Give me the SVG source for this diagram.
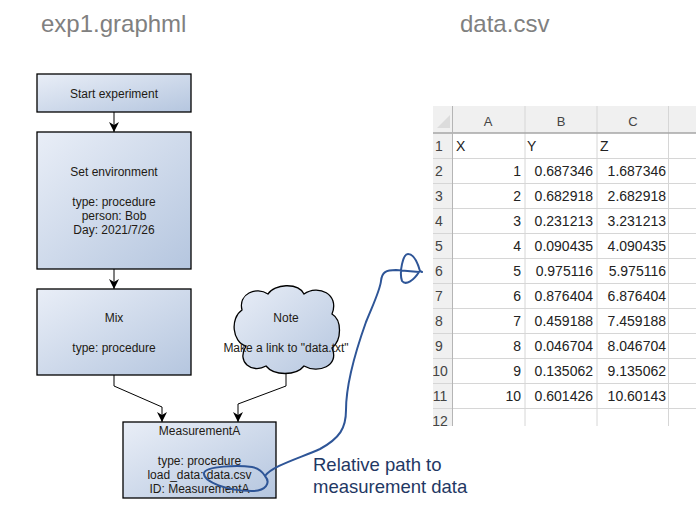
<svg xmlns="http://www.w3.org/2000/svg" width="696" height="529" viewBox="0 0 696 529">
<defs>
<linearGradient id="g" x1="0" y1="0" x2="1" y2="1">
<stop offset="0" stop-color="#E9EEF7"/>
<stop offset="1" stop-color="#B5C6DF"/>
</linearGradient>
<marker id="arr" viewBox="0 0 10 10" refX="10" refY="5" markerWidth="10" markerHeight="10" markerUnits="userSpaceOnUse" orient="auto">
<path d="M0,0 L10,5 L0,10 L3,5 Z" fill="#000"/>
</marker>
<clipPath id="sheetClip"><rect x="433" y="106" width="263" height="320"/></clipPath>
</defs>
<style>
.title{font-family:"Liberation Sans",Arial,sans-serif;font-size:24px;fill:#808080}
.node{fill:url(#g);stroke:#000;stroke-width:1.3}
.t{font-family:"Liberation Sans",Arial,sans-serif;font-size:12px;fill:#221a14;text-anchor:middle}
.edge{fill:none;stroke:#000;stroke-width:1}
.note{font-family:"Liberation Sans",Arial,sans-serif;font-size:18.5px;fill:#1F3864}
.c{font-family:"Liberation Sans",Arial,sans-serif;font-size:14px;fill:#222}
.r{text-anchor:end}
.h{font-family:"Liberation Sans",Arial,sans-serif;font-size:13px;fill:#444;text-anchor:middle}
.rn{font-family:"Liberation Sans",Arial,sans-serif;font-size:14px;fill:#444;text-anchor:middle}
.grid{stroke:#d6d6d6;stroke-width:1}
</style>
<rect width="696" height="529" fill="#fff"/>
<text class="title" x="41" y="32">exp1.graphml</text>
<text class="title" x="460" y="32">data.csv</text>

<g id="spreadsheet" clip-path="url(#sheetClip)">
<rect x="433" y="106" width="263" height="27" fill="#f0f0f0"/>
<rect x="433" y="106" width="19" height="320" fill="#f0f0f0"/>
<path d="M437,128 L450,115 L450,128 Z" fill="#dcdcdc"/>
<g class="grid">
<line x1="525" y1="106" x2="525" y2="426"/>
<line x1="597" y1="106" x2="597" y2="426"/>
<line x1="668.5" y1="106" x2="668.5" y2="426"/>
<line x1="433" y1="158.5" x2="696" y2="158.5"/>
<line x1="433" y1="183.5" x2="696" y2="183.5"/>
<line x1="433" y1="208.5" x2="696" y2="208.5"/>
<line x1="433" y1="233.5" x2="696" y2="233.5"/>
<line x1="433" y1="258.5" x2="696" y2="258.5"/>
<line x1="433" y1="283.5" x2="696" y2="283.5"/>
<line x1="433" y1="308.5" x2="696" y2="308.5"/>
<line x1="433" y1="333.5" x2="696" y2="333.5"/>
<line x1="433" y1="358.5" x2="696" y2="358.5"/>
<line x1="433" y1="383.5" x2="696" y2="383.5"/>
<line x1="433" y1="408.5" x2="696" y2="408.5"/>
</g>
<line x1="433" y1="133" x2="696" y2="133" stroke="#a6a6a6" stroke-width="1.3"/>
<line x1="452.5" y1="106" x2="452.5" y2="426" stroke="#b5b5b5" stroke-width="1"/>
<text class="h" x="488" y="126">A</text>
<text class="h" x="561" y="126">B</text>
<text class="h" x="633" y="126">C</text>
<text class="rn" x="439" y="151">1</text>
<text class="rn" x="439" y="176">2</text>
<text class="rn" x="439" y="201">3</text>
<text class="rn" x="439" y="226">4</text>
<text class="rn" x="439" y="251">5</text>
<text class="rn" x="439" y="276">6</text>
<text class="rn" x="439" y="301">7</text>
<text class="rn" x="439" y="326">8</text>
<text class="rn" x="439" y="351">9</text>
<text class="rn" x="440" y="376">10</text>
<text class="rn" x="440" y="401">11</text>
<text class="rn" x="440" y="426">12</text>
<text class="c" x="456" y="151">X</text>
<text class="c" x="527" y="151">Y</text>
<text class="c" x="600" y="151">Z</text>
<g class="c r">
<text x="521" y="176">1</text><text x="593" y="176">0.687346</text><text x="666" y="176">1.687346</text>
<text x="521" y="201">2</text><text x="593" y="201">0.682918</text><text x="666" y="201">2.682918</text>
<text x="521" y="226">3</text><text x="593" y="226">0.231213</text><text x="666" y="226">3.231213</text>
<text x="521" y="251">4</text><text x="593" y="251">0.090435</text><text x="666" y="251">4.090435</text>
<text x="521" y="276">5</text><text x="593" y="276">0.975116</text><text x="666" y="276">5.975116</text>
<text x="521" y="301">6</text><text x="593" y="301">0.876404</text><text x="666" y="301">6.876404</text>
<text x="521" y="326">7</text><text x="593" y="326">0.459188</text><text x="666" y="326">7.459188</text>
<text x="521" y="351">8</text><text x="593" y="351">0.046704</text><text x="666" y="351">8.046704</text>
<text x="521" y="376">9</text><text x="593" y="376">0.135062</text><text x="666" y="376">9.135062</text>
<text x="521" y="401">10</text><text x="593" y="401">0.601426</text><text x="666" y="401">10.60143</text>
</g>
</g>

<g id="connectors">
<line class="edge" x1="114" y1="112" x2="114" y2="132" marker-end="url(#arr)"/>
<line class="edge" x1="114" y1="269" x2="114" y2="289" marker-end="url(#arr)"/>
<polyline class="edge" points="114,375 114,386 162,407 162,422" marker-end="url(#arr)"/>
<polyline class="edge" points="286,372 286,386 238,404 238,422" marker-end="url(#arr)"/>
</g>

<g id="start">
<rect class="node" x="37" y="74" width="154" height="38"/>
<text class="t" x="114" y="98">Start experiment</text>
</g>
<g id="setenv">
<rect class="node" x="37" y="132" width="154" height="137"/>
<text class="t" x="114" y="176">Set environment</text>
<text class="t" x="114" y="206">type: procedure</text>
<text class="t" x="114" y="220">person: Bob</text>
<text class="t" x="114" y="234">Day: 2021/7/26</text>
</g>
<g id="mix">
<rect class="node" x="37" y="289" width="154" height="86"/>
<text class="t" x="114" y="322">Mix</text>
<text class="t" x="114" y="352">type: procedure</text>
</g>
<g id="note">
<path class="node" d="M246,346 C232,342 230,318 242,310 C238,294 256,286 268,294 C274,284 298,282 304,294 C318,284 340,294 332,314 C342,320 342,340 332,348 C340,366 318,374 304,366 C296,376 274,376 266,366 C252,374 236,362 246,346 Z"/>
<text class="t" x="286" y="322">Note</text>
<text class="t" x="286" y="352">Make a link to "data.txt"</text>
</g>
<g id="measurementA">
<rect class="node" x="123" y="422" width="153" height="76"/>
<text class="t" x="199.5" y="435">MeasurementA</text>
<text class="t" x="199.5" y="465">type: procedure</text>
<text class="t" x="199.5" y="479">load_data: data.csv</text>
<text class="t" x="199.5" y="493">ID: MeasurementA</text>
</g>

<g id="annotation">
<path d="M265,476 C262,471 258,468 252,467 C238,465 206,466 204,473 C203,482 228,491 252,491 C266,491 271,483 265,476 C272,466 300,458 320,449 C340,438 346,428 346,410 C346,382 356,350 366,322 C375,300 380,290 381,281 C382,272 386,270 396,270 L419,272 C414,280 406,286 402,281 C399,272 403,254 408,254 C414,254 418,264 420,271 L422,272" fill="none" stroke="#2E5597" stroke-width="2" stroke-linecap="round" stroke-linejoin="round"/>
<text class="note" x="313" y="471">Relative path to</text>
<text class="note" x="313" y="493">measurement data</text>
</g>
</svg>
